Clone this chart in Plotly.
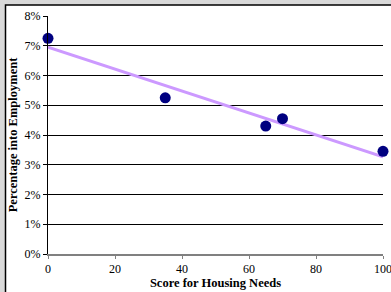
import numpy as np
import plotly.graph_objects as go

scores = [0, 35, 65, 70, 100]
pct_employment = [7.25, 5.25, 4.3, 4.55, 3.45]
y_ticks = [0, 1, 2, 3, 4, 5, 6, 7, 8]
x_ticks = [0, 20, 40, 60, 80, 100]

slope, intercept = np.polyfit(scores, pct_employment, 1)
trend_x = [0, 100]
trend_y = [intercept + slope * v for v in trend_x]

W, H = 391, 292
ml, mr, mt, mb = 48, 8, 16, 38
pw, ph = W - ml - mr, H - mt - mb

def px_x(p):
    return (p - ml) / pw

def px_y(p):
    return 1 - (p - mt) / ph

fig = go.Figure()
fig.add_trace(go.Scatter(x=trend_x, y=trend_y, mode="lines",
                         line=dict(color="#CC99FF", width=3), cliponaxis=False,
                         hoverinfo="skip", showlegend=False))
fig.add_trace(go.Scatter(x=scores, y=pct_employment, mode="markers",
                         marker=dict(color="#000080", size=11), cliponaxis=False,
                         showlegend=False))

font = "Liberation Serif, Times New Roman, serif"
fig.update_layout(
    width=W, height=H,
    margin=dict(l=ml, r=mr, t=mt, b=mb, pad=0, autoexpand=False),
    paper_bgcolor="#d9d9d9", plot_bgcolor="rgba(0,0,0,0)",
    font=dict(family=font, size=12, color="black"),
    xaxis=dict(range=[0, 100], tickvals=x_ticks, showgrid=False, zeroline=False,
               showline=True, linecolor="#808080", linewidth=2,
               ticks="outside", ticklen=3, tickcolor="#808080",
               tickfont=dict(size=12), automargin=False, ticklabeloverflow="allow",
               title=dict(text="<b>Score for Housing Needs</b>", font=dict(size=12.5), standoff=0)),
    yaxis=dict(range=[0, 8], tickvals=y_ticks, ticktext=[f"{v}%" for v in y_ticks],
               showgrid=True, gridcolor="black", gridwidth=1, zeroline=False,
               showline=True, linecolor="black", linewidth=1,
               ticks="outside", ticklen=4, tickcolor="black",
               tickfont=dict(size=12), automargin=False,
               title=dict(text="<b>Percentage into Employment</b>", font=dict(size=12.5), standoff=4)),
    shapes=[
        dict(type="rect", xref="paper", yref="paper", layer="below",
             x0=px_x(5.5), x1=px_x(W + 20), y0=px_y(H + 20), y1=px_y(5),
             fillcolor="white", line=dict(color="black", width=1.5)),
    ],
)
fig.write_html("out.html", config={"displayModeBar": False},
               post_script="document.body.style.margin='0';document.body.style.overflow='hidden';")
